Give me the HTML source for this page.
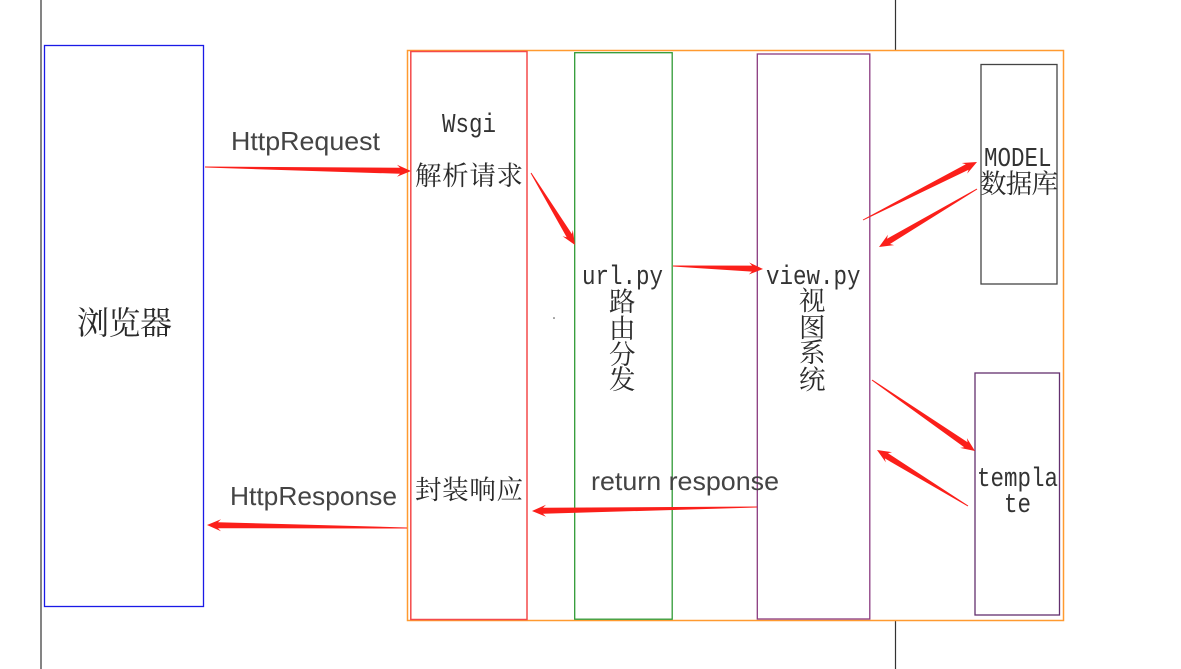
<!DOCTYPE html>
<html>
<head>
<meta charset="utf-8">
<style>
html,body{margin:0;padding:0;background:#fff;width:1181px;height:669px;overflow:hidden}
svg{display:block}
.m{font-family:"Liberation Mono","Noto Serif CJK SC",monospace;font-size:22.5px;fill:#333}
.c{font-family:"Liberation Serif","Noto Serif CJK SC",serif;font-size:26.5px;fill:#2a2a2a}
.s{font-family:"Liberation Sans","Noto Sans CJK SC",sans-serif;font-size:26px;fill:#444}
</style>
</head>
<body>
<svg width="1181" height="669" viewBox="0 0 1181 669" xmlns="http://www.w3.org/2000/svg">
<rect width="1181" height="669" fill="#fff"/>
<g fill="none">
<path d="M41 0V669M895.500 0V50M895.500 620V669" stroke="#333" stroke-width="1.2"/>
<rect x="44.500" y="45.500" width="159" height="561" stroke="#1a1ae6" stroke-width="1.300"/>
<rect x="407.500" y="50.500" width="656" height="570" stroke="#ff9a30" stroke-width="1.500"/>
<rect x="410.800" y="51.500" width="116.200" height="568" stroke="#f44a4a" stroke-width="1.500"/>
<rect x="574.700" y="52.700" width="97.500" height="566.500" stroke="#2f9a35" stroke-width="1.300"/>
<rect x="757.300" y="54" width="112.500" height="565" stroke="#8a3a80" stroke-width="1.300"/>
<rect x="981" y="64.500" width="76" height="219.500" stroke="#444" stroke-width="1.300"/>
<rect x="975" y="373" width="84.500" height="242" stroke="#64306e" stroke-width="1.300"/>
</g>
<circle cx="554" cy="318" r="0.8" fill="#444"/>

<text class="m" transform="translate(442 132) scale(1 1.18)">Wsgi</text>
<text class="c" x="415" y="185" textLength="108">解析请求</text>
<text class="c" x="415" y="499" textLength="108">封装响应</text>
<text class="m" transform="translate(582 284) scale(1 1.18)">url.py</text>
<text class="c" x="609" y="311">路</text>
<text class="c" x="609" y="338">由</text>
<text class="c" x="609" y="364">分</text>
<text class="c" x="609" y="389">发</text>
<text class="m" transform="translate(766 284) scale(1 1.18)">view.py</text>
<text class="c" x="799" y="310">视</text>
<text class="c" x="799" y="337">图</text>
<text class="c" x="799" y="362">系</text>
<text class="c" x="799" y="389">统</text>
<text class="m" transform="translate(984 166) scale(1 1.18)">MODEL</text>
<text class="c" x="980" y="193" textLength="78">数据库</text>
<text class="m" transform="translate(977 486) scale(1 1.18)">templa</text>
<text class="m" transform="translate(1004 512) scale(1 1.18)">te</text>
<text class="c" style="font-size:32px" x="77" y="334" textLength="95">浏览器</text>
<text class="s" x="231" y="150" textLength="149" lengthAdjust="spacingAndGlyphs">HttpRequest</text>
<text class="s" x="230" y="505" textLength="167" lengthAdjust="spacingAndGlyphs">HttpResponse</text>
<text class="s" x="591" y="490" textLength="188" lengthAdjust="spacingAndGlyphs">return response</text>

<g fill="#fb1f1a">
<polygon points="205,167.500 400,173.800 397,176.700 411,171 397,164.700 400,167.800 205,166.500"/>
<polygon points="531.400,172.700 571.900,234 572.800,230 575,245 562.600,236.200 566.700,237.200 530.600,173.300"/>
<polygon points="673,266.500 751.900,271.600 748.800,274.500 763,269 749.200,262.500 752.100,265.600 673,265.500"/>
<polygon points="863.200,220.400 968.600,169.700 967.200,173.600 977,162 961.800,163 965.800,164.300 862.800,219.600"/>
<polygon points="977.300,189.400 890,244 894.100,245.100 879,247 887.900,234.700 887,238.800 976.700,188.600"/>
<polygon points="872.300,379.600 967.600,442.300 966.900,438.100 975,451 960.100,447.900 964.200,447.300 871.700,380.400"/>
<polygon points="968.300,505.600 888,453.200 892,452.200 877,450 885.800,462.400 884.800,458.400 967.700,506.400"/>
<polygon points="757,507.500 543,513.800 546,516.700 532,511 546,504.700 543,507.800 757,506.500"/>
<polygon points="407,528.500 218,528.200 221,531.200 207,525 221,519.200 218,522.200 407,527.500"/>
</g>
</svg>
</body>
</html>
